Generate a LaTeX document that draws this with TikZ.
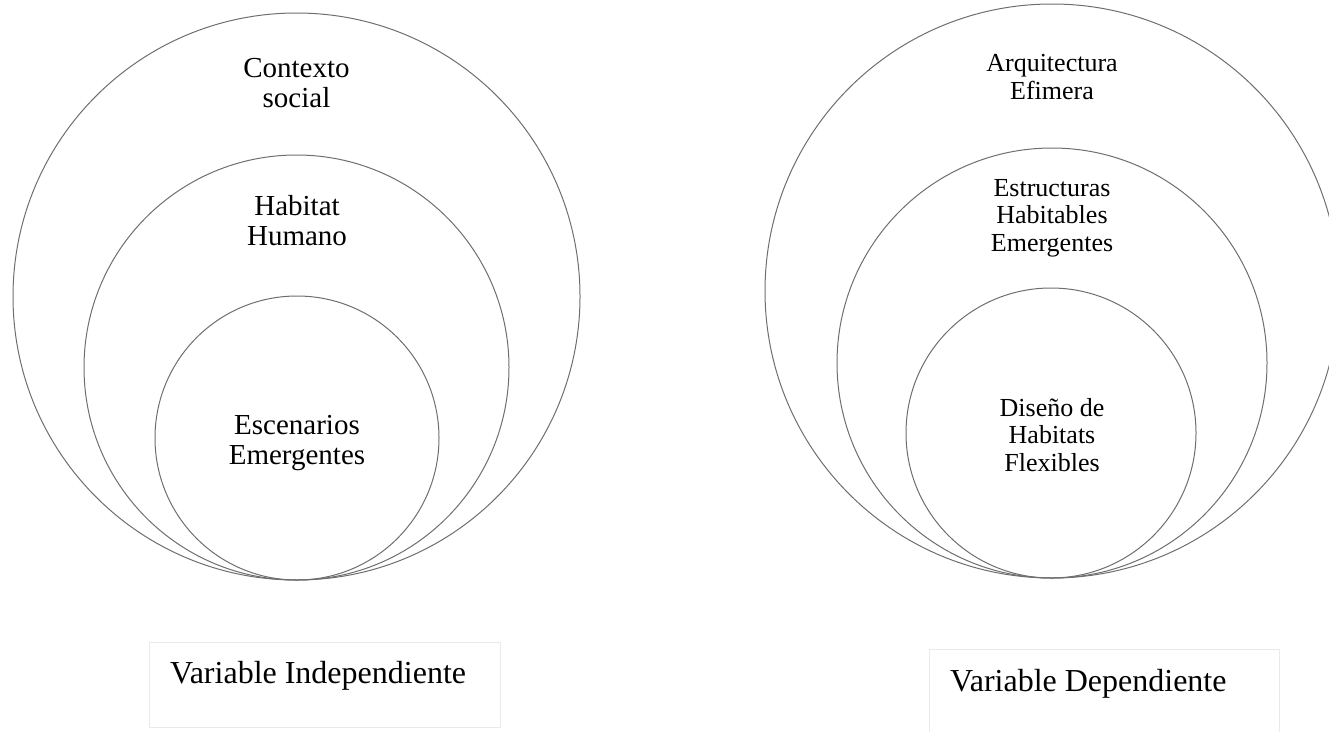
\documentclass[tikz,border=0pt]{standalone}
\usepackage{fontspec}
\setmainfont{Liberation Serif}
\definecolor{ringgray}{RGB}{110,110,110}
\definecolor{boxgray}{RGB}{234,234,234}
\begin{document}
\begin{tikzpicture}[x=1pt,y=-1pt,
  ring/.style={draw=ringgray, line width=1pt, circle, inner sep=0pt},
  lblL/.style={font=\fontsize{29}{29.5}\selectfont, align=center, anchor=base, inner sep=0pt},
  lblR/.style={font=\fontsize{26}{27.5}\selectfont, align=center, anchor=base, inner sep=0pt},
  varbox/.style={draw=boxgray, line width=0.8pt, rectangle, inner sep=0pt, anchor=north west},
  vartext/.style={font=\fontsize{32}{34}\selectfont, anchor=base west, inner sep=0pt}]
\useasboundingbox (0,0) rectangle (1329,731);
\clip (0,0) rectangle (1329,731);
% left set
\node[ring, minimum size=567pt] (lout) at (296.5,296.5) {};
\node[ring, minimum size=425pt] (lmid) at (296.5,367.5) {};
\node[ring, minimum size=284pt] (linn) at (297,438) {};
\node[lblL] (lt1) at (296.5,107) {Contexto\\social};
\node[lblL] (lt2) at (297,245) {Habitat\\Humano};
\node[lblL] (lt3) at (297,464) {Escenarios\\Emergentes};
% right set
\node[ring, minimum size=574pt] (rout) at (1052,291) {};
\node[ring, minimum size=430pt] (rmid) at (1052,363) {};
\node[ring, minimum size=290pt] (rinn) at (1051,433) {};
\node[lblR] (rt1) at (1052,99) {Arquitectura\\Efimera};
\node[lblR] (rt2) at (1052,251) {Estructuras\\Habitables\\Emergentes};
\node[lblR] (rt3) at (1052,471) {Diseño de\\Habitats\\Flexibles};
% variable boxes
\node[varbox, minimum width=351pt, minimum height=85pt] (lbox) at (149,642) {};
\node[vartext] (lvar) at (170,683) {Variable Independiente};
\node[varbox, minimum width=350pt, minimum height=95pt] (rbox) at (929,649) {};
\node[vartext] (rvar) at (950,691) {Variable Dependiente};
\end{tikzpicture}
\end{document}
